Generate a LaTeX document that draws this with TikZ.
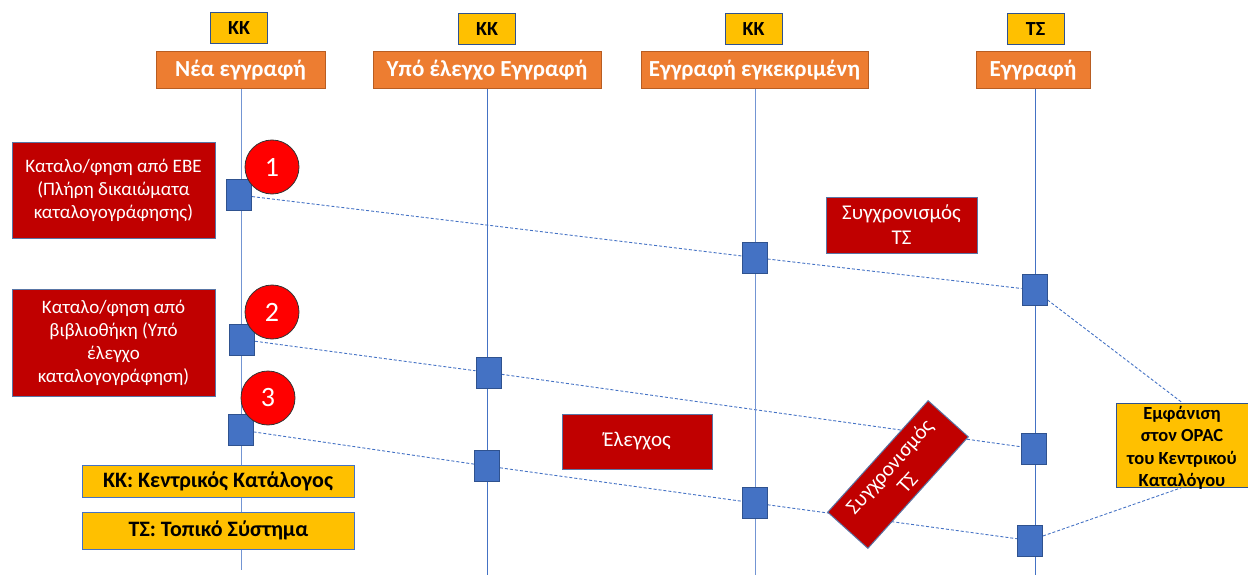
\documentclass[tikz,border=0pt]{standalone}
\usepackage{fontspec}
\setmainfont{Carlito}
\usetikzlibrary{backgrounds}
\definecolor{org}{HTML}{ED7D31}
\definecolor{orgb}{HTML}{B85D22}
\definecolor{ylw}{HTML}{FFC000}
\definecolor{bdr}{HTML}{2F528F}
\definecolor{dred}{HTML}{C00000}
\definecolor{blu}{HTML}{4472C4}
\definecolor{cred}{HTML}{FF0000}
\tikzset{
  hdr/.style={draw=orgb, fill=org, line width=1pt, text=white, font=\bfseries\fontsize{23}{27}\selectfont, minimum height=37pt, inner sep=0pt},
  tag/.style={draw=bdr, fill=ylw, line width=1pt, text=black, font=\bfseries\fontsize{20}{22}\selectfont, minimum width=57pt, minimum height=31pt, inner sep=0pt},
  legend/.style={draw=blu, fill=ylw, line width=1pt, text=black, font=\bfseries\fontsize{22}{26}\selectfont, minimum width=272pt, minimum height=32pt, inner sep=0pt},
  redbox/.style={draw=bdr!80, fill=dred, line width=1pt, text=white, font=\fontsize{19}{23}\selectfont, align=center, inner sep=0pt},
  num/.style={circle, draw=black!80, fill=cred, line width=0.8pt, text=white, font=\fontsize{28}{32}\selectfont, minimum size=54pt, inner sep=0pt},
  sq/.style={draw=bdr, fill=blu, line width=1pt, minimum width=25pt, minimum height=31pt, inner sep=0pt},
  life/.style={blu, line width=1pt},
  lifel/.style={blu!75, line width=1pt},
  conn/.style={blu, line width=0.9pt, dash pattern=on 3pt off 2pt},
}
\begin{document}
\begin{tikzpicture}[x=1pt,y=-1pt]
\useasboundingbox (0,0) rectangle (1248,575);
% headers
\node[hdr, minimum width=169pt] (h1) at (240.5,70.5) {Νέα εγγραφή};
\node[hdr, minimum width=228pt] (h2) at (487,70.5) {Υπό έλεγχο Εγγραφή};
\node[hdr, minimum width=227pt] (h3) at (754.5,70.5) {Εγγραφή εγκεκριμένη};
\node[hdr, minimum width=114pt] (h4) at (1033,70.5) {Εγγραφή};
\node[tag] (t1) at (239,28.5) {ΚΚ};
\node[tag] (t2) at (487,29) {ΚΚ};
\node[tag] (t3) at (753.5,29) {ΚΚ};
\node[tag] (t4) at (1035.5,29) {ΤΣ};
% lifeline ends
\coordinate (e1) at (241,570);
\coordinate (e2) at (487,575);
\coordinate (e3) at (755,575);
\coordinate (e4) at (1035,575);
\draw[lifel] (h1.south -| e1) -- (e1);
\draw[life] (h2.south -| e2) -- (e2);
\draw[lifel] (h3.south -| e3) -- (e3);
\draw[life] (h4.south -| e4) -- (e4);
% red boxes
\node[redbox, minimum width=203pt, minimum height=95pt] (r1) at (113.5,190.5) {Καταλο/φηση από ΕΒΕ\\(Πλήρη δικαιώματα\\καταλογογράφησης)};
\node[redbox, minimum width=203pt, minimum height=107pt] (r2) at (113.5,342.5) {Καταλο/φηση από\\βιβλιοθήκη (Υπό\\έλεγχο\\καταλογογράφηση)};
\node[redbox, font=\fontsize{21}{25}\selectfont, minimum width=151pt, minimum height=56pt] (sync1) at (901.5,225) {Συγχρονισμός\\ΤΣ};
\node[redbox, font=\fontsize{21}{25}\selectfont, minimum width=150pt, minimum height=55pt] (elg) at (637,441.5) {Έλεγχος};
\node[redbox, font=\fontsize{21}{24}\selectfont, minimum width=150pt, minimum height=54pt, rotate=48] (sync2) at (898,474.5) {Συγχρονισμός\\ΤΣ};
% legend
\node[legend] (lg1) at (218,481.5) {ΚΚ: Κεντρικός Κατάλογος};
\node[legend, minimum height=37pt] (lg2) at (218.5,530.5) {ΤΣ: Τοπικό Σύστημα};
% squares
\node[sq] (a1) at (239,195) {};
\node[sq] (a2) at (242,339.5) {};
\node[sq] (a3) at (240.5,430) {};
\node[sq] (b2) at (488.5,372.5) {};
\node[sq] (b3) at (487,466) {};
\node[sq] (c1) at (754.5,257.5) {};
\node[sq] (c3) at (754.5,503) {};
\node[sq] (d1) at (1034.5,290) {};
\node[sq] (d2) at (1033.5,448.5) {};
\node[sq] (d3) at (1030,540.5) {};
% circles
\node[num] (n1) at (272,167) {1};
\node[num] (n2) at (272,312) {2};
\node[num] (n3) at (268,398) {3};
% OPAC box
\node[draw=bdr, fill=ylw, line width=1pt, minimum width=132pt, minimum height=84pt, inner sep=0pt] (opac) at (1182,445) {};
\node[font=\bfseries\fontsize{18.5}{22.5}\selectfont, align=center, inner sep=0pt] (opact) at (1182,448) {Εμφάνιση\\στον OPAC\\του Κεντρικού\\Καταλόγου};
% connectors (behind the boxes)
\begin{scope}[on background layer]
\draw[conn] (a1) -- (c1) -- (d1);
\draw[conn] (a2) -- (b2) -- (d2);
\draw[conn] (a3) -- (b3) -- (c3) -- (d3);
\draw[conn] (d1) -- (opac.north);
\draw[conn] (d3) -- (opac.south);
\end{scope}
\end{tikzpicture}
\end{document}
